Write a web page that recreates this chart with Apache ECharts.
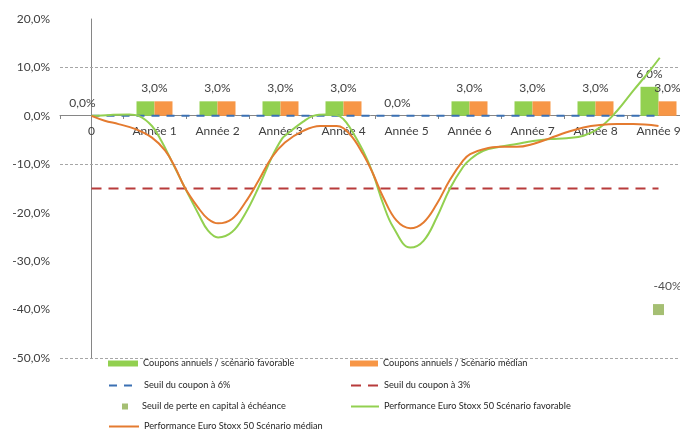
<!DOCTYPE html>
<html>
<head>
<meta charset="utf-8">
<script src="https://cdn.jsdelivr.net/npm/echarts@6/dist/echarts.min.js"></script>
<style>html,body{margin:0;padding:0;background:#fff;}#c{width:680px;height:432px;}</style>
</head>
<body>
<div id="c"></div>
<script>
const CATEGORIES = ['0', 'Année 1', 'Année 2', 'Année 3', 'Année 4', 'Année 5', 'Année 6', 'Année 7', 'Année 8', 'Année 9'];
const COUPON_FAV = [0, 3, 3, 3, 3, 0, 3, 3, 3, 6];
const COUPON_MED = [0, 3, 3, 3, 3, 0, 3, 3, 3, 3];
const SEUIL_6 = [0, 0, 0, 0, 0, 0, 0, 0, 0, 0];
const SEUIL_3 = [-15, -15, -15, -15, -15, -15, -15, -15, -15, -15];
const PERTE = [null, null, null, null, null, null, null, null, null, -40];
const GRID_LINES = [10, -10, -50];

const FAV_T = [0, 0.3, 0.6, 0.75, 0.96, 1.11, 1.27, 1.48, 1.70, 1.85, 2.01, 2.23, 2.44, 2.65, 2.86, 3.02, 3.10, 3.36, 3.52, 3.73, 3.89, 4.0, 4.10, 4.31, 4.47, 4.63, 4.79, 5.06, 5.27, 5.48, 5.69, 5.90, 6.01, 6.22, 6.48, 6.75, 7.01, 7.28, 7.54, 7.81, 8.07, 8.34, 8.6, 8.86, 9.02];
const FAV_V = [0, 0.2, 0.3, 0, -2.1, -5.2, -9.3, -14.8, -20.3, -23.7, -25.1, -24, -20.2, -14.8, -8.6, -4.8, -3.8, -1.2, 0, 0.3, 0.2, -0.7, -2.4, -7.2, -12, -18.2, -23, -27.2, -25.8, -21, -15, -10.5, -9.0, -7.2, -6.4, -5.8, -5.2, -4.8, -4.6, -4.1, -2.4, 1.0, 5.2, 9.3, 12.0];
const MED_T = [0, 0.21, 0.43, 0.69, 0.96, 1.17, 1.33, 1.48, 1.69, 1.85, 2.01, 2.23, 2.44, 2.65, 2.86, 3.07, 3.36, 3.63, 3.89, 4.10, 4.31, 4.47, 4.63, 4.84, 5.06, 5.27, 5.48, 5.69, 5.90, 6.01, 6.22, 6.48, 6.75, 7.01, 7.28, 7.54, 7.81, 8.07, 8.34, 8.6, 9.0];
const MED_V = [0, -1.0, -1.7, -2.7, -4.5, -7.2, -10.7, -14.8, -18.9, -21.3, -22.2, -21.3, -17.9, -13.4, -8.6, -5.5, -3.1, -2.1, -2.1, -3.8, -7.9, -12, -16.8, -21.6, -23.2, -22, -18.2, -13.2, -9.2, -7.9, -6.9, -6.4, -6.4, -5.8, -4.6, -3.4, -2.4, -1.9, -1.7, -1.7, -2.1];

const N_FAV = 'Coupons annuels / scénario favorable';
const N_MED = 'Coupons annuels / Scénario médian';
const N_S6 = 'Seuil du coupon à 6%';
const N_S3 = 'Seuil du coupon à 3%';
const N_PERTE = 'Seuil de perte en capital à échéance';
const N_PFAV = 'Performance Euro Stoxx 50 Scénario favorable';
const N_PMED = 'Performance Euro Stoxx 50 Scénario médian';

const FONT = 'Lato';
const pct1 = v => v.toFixed(1).replace('.', ',') + '%';

const favData = COUPON_FAV.map((v, i) => {
  const same = v === COUPON_MED[i] && v > 0;
  return { value: v, label: { show: true, offset: same ? [9, 0] : [0, 0] } };
});
const medData = COUPON_MED.map((v, i) => {
  const show = v > 0 && v !== COUPON_FAV[i];
  return { value: v, label: { show: show } };
});

const barLabel = { position: 'top', distance: 7, color: '#404040', fontFamily: FONT, fontSize: 12, formatter: p => pct1(p.value) };

const legendText = { color: '#262626', fontFamily: FONT, fontSize: 9.2 };
const legendBase = (name, left, top, w, h, extra) => Object.assign({
  data: [name], left: left, top: top, itemWidth: w, itemHeight: h, padding: 0,
  selectedMode: false,
  itemStyle: { opacity: 0 },
  textStyle: legendText
}, extra || {});

const chart = echarts.init(document.getElementById('c'), null, { renderer: 'canvas' });
chart.setOption({
  animation: false,
  grid: { left: 60, width: 630, top: 19, height: 339, containLabel: false, outerBoundsMode: 'none' },
  legend: [
    legendBase(N_FAV, 108, 359, 30, 6, { icon: 'rect', itemStyle: {} }),
    legendBase(N_MED, 350, 359, 28, 6, { icon: 'rect', itemStyle: {} }),
    legendBase(N_S6, 108, 381, 30, 6),
    legendBase(N_S3, 350, 381, 28, 6),
    legendBase(N_PERTE, 122, 402, 6, 6, { icon: 'rect', itemStyle: {}, textStyle: Object.assign({}, legendText, { padding: [0, 0, 0, 9] }) }),
    legendBase(N_PFAV, 350, 402, 28, 6),
    legendBase(N_PMED, 108, 422, 30, 6)
  ],
  xAxis: [
    {
      type: 'category', data: CATEGORIES, position: 'bottom', offset: -243,
      axisLine: { onZero: false, lineStyle: { color: '#868686', width: 1 } },
      axisTick: { show: true, length: 4, lineStyle: { color: '#868686' } },
      axisLabel: { color: '#404040', fontFamily: FONT, fontSize: 12, margin: 10 },
      splitLine: { show: false }
    },
    { type: 'value', min: -0.5, max: 9.5, show: false }
  ],
  yAxis: {
    type: 'value', min: -50, max: 20, interval: 10,
    axisLine: { show: true, lineStyle: { color: '#868686', width: 1 } },
    axisTick: { show: false },
    splitLine: { show: false },
    axisLabel: { color: '#404040', fontFamily: FONT, fontSize: 12, margin: 10, formatter: pct1 }
  },
  series: [
    {
      name: N_FAV, type: 'bar', data: favData, barWidth: 18, barGap: '0%',
      itemStyle: { color: '#92d050' }, label: barLabel, z: 2,
      markLine: {
        silent: true, symbol: 'none', label: { show: false },
        lineStyle: { color: '#a6a6a6', type: [3, 2], width: 1 },
        data: GRID_LINES.map(v => ({ yAxis: v }))
      }
    },
    {
      name: N_MED, type: 'bar', data: medData, barWidth: 18, barGap: '0%',
      itemStyle: { color: '#f79646' }, label: barLabel, z: 2
    },
    {
      name: N_S6, type: 'line', data: SEUIL_6, symbol: 'none', z: 3,
      itemStyle: { color: '#3b70b3' },
      lineStyle: { color: '#3b70b3', width: 2, type: [8, 7] }
    },
    {
      name: N_S3, type: 'line', data: SEUIL_3, symbol: 'none', z: 3,
      itemStyle: { color: '#b83b3b' },
      lineStyle: { color: '#b83b3b', width: 2, type: [10, 7] }
    },
    {
      name: N_PERTE, type: 'scatter', data: PERTE, symbol: 'rect', symbolSize: 11, z: 4,
      itemStyle: { color: '#8faf50' },
      label: { show: true, position: 'top', distance: 12, offset: [9, 0], color: '#262626', fontFamily: FONT, fontSize: 12, formatter: p => Math.round(p.value) + '%' }
    },
    {
      name: N_PFAV, type: 'line', xAxisIndex: 1, smooth: 0.4, symbol: 'none', z: 5,
      data: FAV_T.map((t, i) => [t, FAV_V[i]]),
      itemStyle: { color: '#92d050' },
      lineStyle: { color: '#92d050', width: 2 }
    },
    {
      name: N_PMED, type: 'line', xAxisIndex: 1, smooth: 0.4, symbol: 'none', z: 5,
      data: MED_T.map((t, i) => [t, MED_V[i]]),
      itemStyle: { color: '#e47b30' },
      lineStyle: { color: '#e47b30', width: 2 }
    }
  ]
});
</script>
</body>
</html>
